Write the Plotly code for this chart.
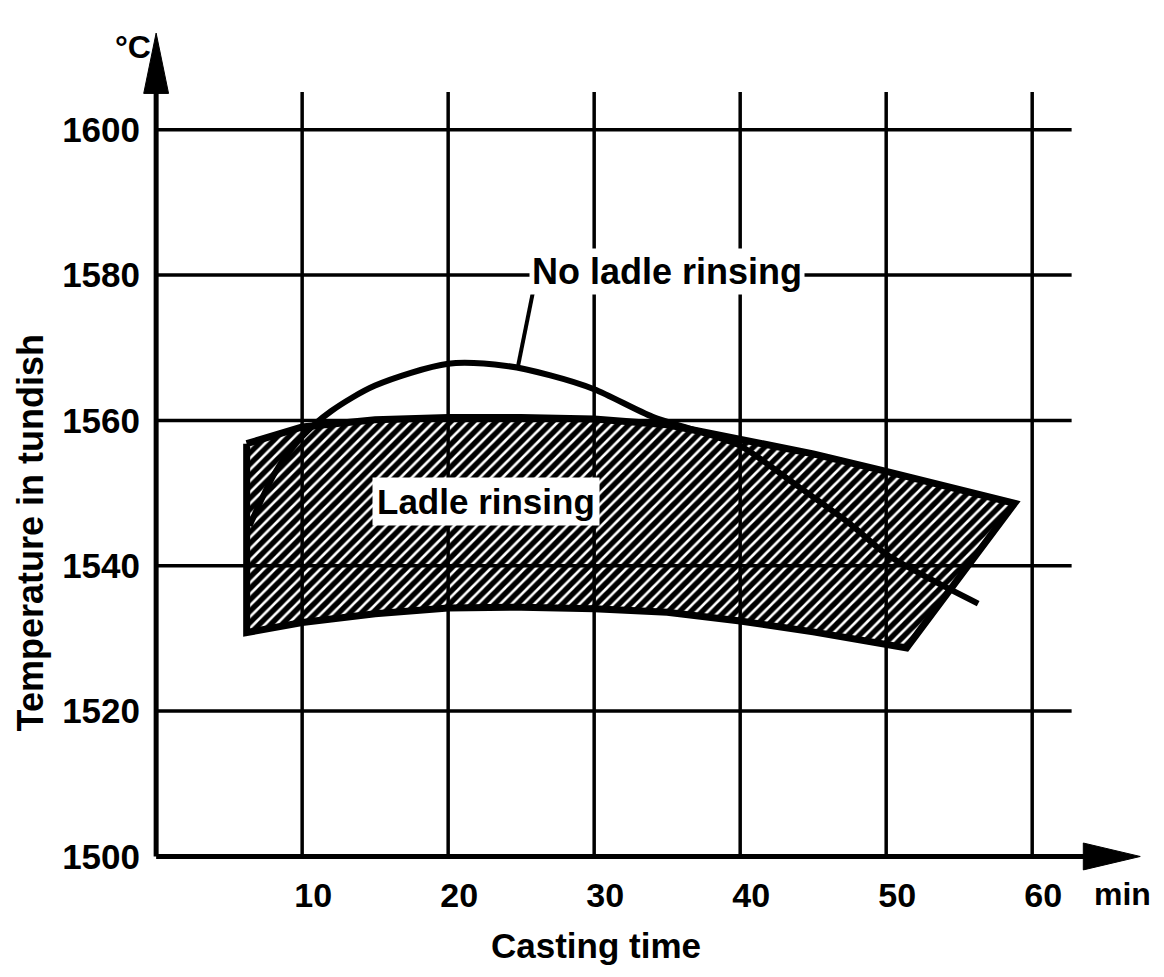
import plotly.graph_objects as go

# ---------------- data ----------------
x_ticks = [10, 20, 30, 40, 50, 60]
y_ticks = [1500, 1520, 1540, 1560, 1580, 1600]
y_tick_labels = ["1500", "1520", "1540", "1560", "1580", "1600"]

# Ladle rinsing band
band_upper_time = [6.2, 10, 15, 20, 25, 30, 35, 40, 45, 50, 55, 58.8]
band_upper_temp = [1556.8, 1559.1, 1560.1, 1560.4, 1560.4, 1560.2, 1559.4, 1557.5, 1555.4, 1553.0, 1550.5, 1548.6]
band_lower_time = [6.2, 10, 15, 20, 25, 30, 35, 40, 45, 50, 51.4]
band_lower_temp = [1530.8, 1532.2, 1533.4, 1534.2, 1534.3, 1534.1, 1533.6, 1532.4, 1530.9, 1529.2, 1528.7]

# No ladle rinsing curve
no_rinse_time = [6.4, 8.2, 10, 12, 15, 20, 24, 27, 30, 34, 37, 40, 43.5, 47.5, 50, 53, 56.3]
no_rinse_temp = [1545.5, 1553.0, 1557.8, 1561.3, 1564.8, 1567.8, 1567.5, 1566.2, 1564.3, 1560.5,
                 1558.6, 1556.5, 1551.6, 1545.8, 1541.6, 1538.2, 1534.8]

X_RANGE = [-0.9, 68]
Y_RANGE = [1498, 1614]
X0, Y0 = 0, 1500          # axis origin
FONT = "Liberation Sans"

fig = go.Figure()

# hatched band (closed polygon: upper edge, right edge, lower edge back)
band_x = band_upper_time + band_lower_time[::-1] + [band_upper_time[0]]
band_y = band_upper_temp + band_lower_temp[::-1] + [band_upper_temp[0]]
fig.add_trace(go.Scatter(
    x=band_x, y=band_y, mode="lines", fill="toself",
    fillcolor="rgba(0,0,0,0)",
    fillpattern=dict(shape="/", fgcolor="black", bgcolor="rgba(0,0,0,0)",
                     size=8, solidity=0.68, fillmode="replace"),
    line=dict(color="black", width=7, shape="linear"),
    hoverinfo="skip", showlegend=False))

fig.add_trace(go.Scatter(
    x=no_rinse_time, y=no_rinse_temp, mode="lines",
    line=dict(color="black", width=6, shape="spline", smoothing=0.8),
    hoverinfo="skip", showlegend=False))

shapes = []
grid_top = 1605.2
grid_right = 62.7
for t in x_ticks:
    shapes.append(dict(type="line", xref="x", yref="y", x0=t, x1=t, y0=Y0, y1=grid_top,
                       line=dict(color="black", width=3.5), layer="below"))
for v in y_ticks[1:]:
    shapes.append(dict(type="line", xref="x", yref="y", x0=X0, x1=grid_right, y0=v, y1=v,
                       line=dict(color="black", width=3.5), layer="below"))

# axes with arrowheads
y_tip = 1613.3
y_base = 1605.0
x_tip = 67.4
x_base = 63.5
shapes.append(dict(type="line", xref="x", yref="y", x0=X0, x1=X0, y0=Y0, y1=y_base + 0.5,
                   line=dict(color="black", width=5), layer="above"))
shapes.append(dict(type="line", xref="x", yref="y", x0=X0, x1=x_base + 0.3, y0=Y0, y1=Y0,
                   line=dict(color="black", width=5), layer="above"))
hw_x = 0.85   # half width of y-arrow in minutes
hw_y = 1.85   # half width of x-arrow in degrees
shapes.append(dict(type="path", xref="x", yref="y",
                   path=f"M {X0-hw_x},{y_base} L {X0+hw_x},{y_base} L {X0},{y_tip} Z",
                   fillcolor="black", line=dict(color="black", width=1), layer="above"))
shapes.append(dict(type="path", xref="x", yref="y",
                   path=f"M {x_base},{Y0-hw_y} L {x_base},{Y0+hw_y} L {x_tip},{Y0} Z",
                   fillcolor="black", line=dict(color="black", width=1), layer="above"))

# leader line for "No ladle rinsing"
shapes.append(dict(type="line", xref="x", yref="y", x0=25.8, y0=1577.6, x1=24.8, y1=1567.6,
                   line=dict(color="black", width=4), layer="above"))

annotations = [
    dict(text="No ladle rinsing", x=35.0, y=1580.5, xref="x", yref="y", showarrow=False,
         xanchor="center", yanchor="middle",
         font=dict(family=FONT, size=36, color="black", weight="bold"),
         bgcolor="white", borderpad=2),
    dict(text="Ladle rinsing", x=22.6, y=1548.8, xref="x", yref="y", showarrow=False,
         xanchor="center", yanchor="middle",
         font=dict(family=FONT, size=35, color="black", weight="bold"),
         bgcolor="white", borderpad=4),
    dict(text="°C", x=-0.01, y=1611.4, xref="paper", yref="y", showarrow=False,
         xanchor="center", yanchor="middle",
         font=dict(family=FONT, size=32, color="black", weight="bold")),
    dict(text="min", x=66.2, y=-0.027, xref="x", yref="paper", showarrow=False,
         xanchor="center", yanchor="middle",
         font=dict(family=FONT, size=32, color="black", weight="bold")),
    dict(text="Casting time", x=30.1, y=-0.088, xref="x", yref="paper", showarrow=False,
         xanchor="center", yanchor="middle",
         font=dict(family=FONT, size=35, color="black", weight="bold")),
    dict(text="Temperature in tundish", x=-0.112, y=1544.5, xref="paper", yref="y",
         showarrow=False, textangle=-90, xanchor="center", yanchor="middle",
         font=dict(family=FONT, size=36, color="black", weight="bold")),
]

fig.update_layout(
    width=1156, height=969,
    margin=dict(l=135, r=15, t=20, b=106, autoexpand=False),
    paper_bgcolor="white", plot_bgcolor="white",
    shapes=shapes, annotations=annotations,
    showlegend=False,
    xaxis=dict(range=X_RANGE, tickvals=x_ticks, ticktext=[str(t) for t in x_ticks],
               showgrid=False, zeroline=False, showline=False, ticks="",
               automargin=False,
               ticklabelstandoff=1, ticklabelshift=11,
               tickfont=dict(family=FONT, size=34, color="black", weight="bold")),
    yaxis=dict(range=Y_RANGE, tickvals=y_ticks, ticktext=y_tick_labels,
               showgrid=False, zeroline=False, showline=False, ticks="",
               automargin=False,
               ticklabelstandoff=2,
               tickfont=dict(family=FONT, size=35, color="black", weight="bold")),
)

fig.write_html("out.html")
